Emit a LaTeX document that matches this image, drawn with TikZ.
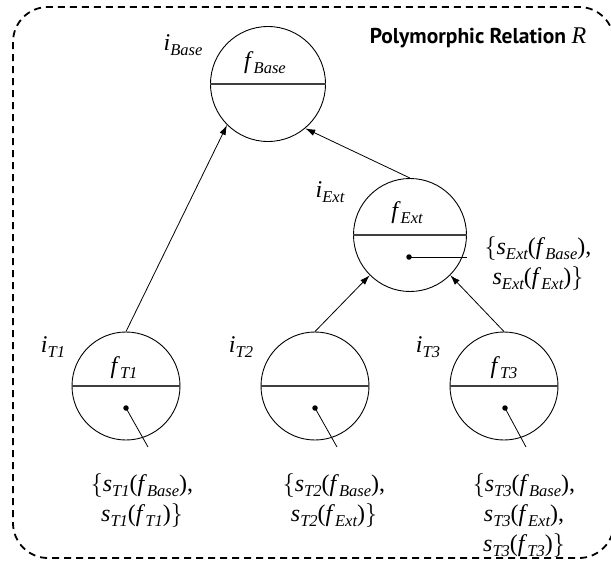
\RequirePackage{fix-cm}
\documentclass[tikz,border=0pt]{standalone}
\usepackage{fontspec}
\setmainfont{Liberation Serif}
\setsansfont{PT Sans}
\usetikzlibrary{arrows.meta}
\newcommand{\vsub}[2]{\textit{#1}\raisebox{-5pt}{\fontsize{16.5}{17}\selectfont\itshape #2}}
\newcommand{\lbr}{$\bigl\{$}
\newcommand{\rbr}{$\bigr\}$}
\begin{document}
\begin{tikzpicture}[x=1pt,y=-1pt,
  ring/.style={circle,draw,line width=0.9pt,minimum size=108pt,inner sep=0pt},
  mt/.style={font=\fontsize{24}{30}\selectfont, inner sep=0pt},
  lbl/.style={align=center, font=\fontsize{24}{30}\selectfont, inner sep=0pt},
  arr/.style={-{Latex[length=10pt,width=6.5pt]}, line width=0.8pt},
  divider/.style={line width=1.1pt, black!75},
  dotc/.style={circle,fill,inner sep=0pt,minimum size=5.5pt},
  lead/.style={line width=0.8pt},
  frame/.style={line width=1.8pt, dash pattern=on 7pt off 5pt, rounded corners=35pt},
  titlefont/.style={font=\fontsize{21.5}{24}\selectfont\sffamily\bfseries, inner sep=0pt}]
\useasboundingbox (0,0) rectangle (611,562);
% frame
\draw[frame] (13,7) rectangle (614,558);
% circles
\node[ring, minimum size=115pt] (base) at (268,84) {};
\node[ring, minimum size=113pt] (ext) at (410,235) {};
\node[ring] (t1) at (126,386) {};
\node[ring] (t2) at (315,386) {};
\node[ring] (t3) at (504,386) {};
\draw[divider] (base.west) -- (base.east);
\draw[divider] (ext.west) -- (ext.east);
\draw[divider] (t1.west) -- (t1.east);
\draw[divider] (t2.west) -- (t2.east);
\draw[divider] (t3.west) -- (t3.east);
% field labels
\node[mt] (fbase) at (265,63) {\vsub{f}{Base}};
\node[mt] (fext) at (407,213) {\vsub{f}{Ext}};
\node[mt] (ft1) at (124,368) {\vsub{f}{T1}};
\node[mt] (ft3) at (504,368) {\vsub{f}{T3}};
% instance labels
\node[mt] (ibase) at (183,45) {\vsub{i}{Base}};
\node[mt] (iext) at (330,192) {\vsub{i}{Ext}};
\node[mt] (it1) at (53,347) {\vsub{i}{T1}};
\node[mt] (it2) at (241,347) {\vsub{i}{T2}};
\node[mt] (it3) at (428,347) {\vsub{i}{T3}};
% title
\node[titlefont, anchor=base] (title) at (478,43) {Polymorphic Relation {\rmfamily\mdseries\fontsize{24}{24}\selectfont\itshape R}};
% arrows
\draw[arr] (t1.north) -- (base.225);
\draw[arr] (ext.north) -- (base.-50);
\draw[arr] (t2.north) -- (ext.225);
\draw[arr] (t3.north) -- (ext.-45);
% dots and leads
\node[dotc] (d1) at (126,408) {};
\node[dotc] (d2) at (315,408) {};
\node[dotc] (d3) at (505,408) {};
\node[dotc] (dx) at (409,257) {};
\coordinate (e1) at (148,447);
\coordinate (e2) at (337,447);
\coordinate (e3) at (526,447);
\coordinate (ex) at (467,257);
\draw[lead] (d1.center) -- (e1);
\draw[lead] (d2.center) -- (e2);
\draw[lead] (d3.center) -- (e3);
\draw[lead] (dx.center) -- (ex);
% state labels
\node[lbl] (lt1) at (142,500) {\lbr\vsub{s}{T1}(\vsub{f}{Base}),\\\vsub{s}{T1}(\vsub{f}{T1})\rbr};
\node[lbl] (lt2) at (334,500) {\lbr\vsub{s}{T2}(\vsub{f}{Base}),\\\vsub{s}{T2}(\vsub{f}{Ext})\rbr};
\node[lbl] (lt3) at (524,515) {\lbr\vsub{s}{T3}(\vsub{f}{Base}),\\\vsub{s}{T3}(\vsub{f}{Ext}),\\\vsub{s}{T3}(\vsub{f}{T3})\rbr};
\node[lbl] (lx) at (538,263) {\lbr\vsub{s}{Ext}(\vsub{f}{Base}),\\\vsub{s}{Ext}(\vsub{f}{Ext})\rbr};
\end{tikzpicture}
\end{document}
